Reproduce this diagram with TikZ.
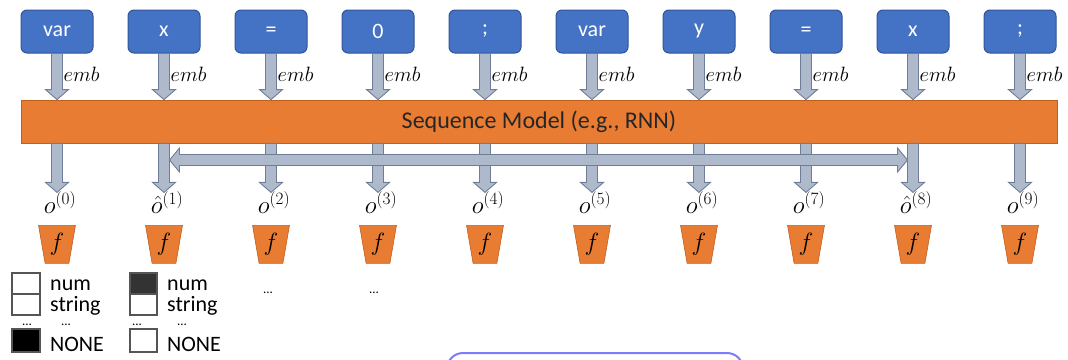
\documentclass[tikz,border=0pt]{standalone}
\usepackage{fontspec}
\setmainfont{Carlito}
\usetikzlibrary{shapes.geometric,calc}
\definecolor{tokF}{HTML}{4472C4}
\definecolor{tokD}{HTML}{2F5597}
\definecolor{orF}{HTML}{E97C33}
\definecolor{orD}{HTML}{C0601E}
\definecolor{arF}{HTML}{AEBACC}
\definecolor{arD}{HTML}{6E7E98}
\definecolor{lgD}{HTML}{555555}
\definecolor{lav}{HTML}{7C7CFA}
\newcommand\dblk[2]{\path[blk] let \p1=#1, \p2=#2 in (\x1-5.5pt,\y1) -- (\x1+5.5pt,\y1) -- (\x1+5.5pt,\y2+10pt) -- (\x1+11.5pt,\y2+10pt) -- (\x1,\y2) -- (\x1-11.5pt,\y2+10pt) -- (\x1-5.5pt,\y2+10pt) -- cycle;}
\begin{document}
\begin{tikzpicture}[x=1pt,y=-1pt,
  tok/.style={draw=tokD, fill=tokF, line width=1pt, rounded corners=6pt, minimum width=72pt, minimum height=43pt, inner sep=0pt, text=white, font=\fontsize{22}{26}\selectfont},
  barbox/.style={draw=orD, fill=orF, line width=0.8pt, minimum width=1036pt, minimum height=43pt, inner sep=0pt, text={black!85}, font=\fontsize{24}{28}\selectfont},
  blk/.style={draw=arD, fill=arF, line width=0.9pt, line join=miter},
  emblab/.style={anchor=base west, inner sep=0pt, font=\fontsize{21.5}{25}\selectfont},
  olab/.style={anchor=base, inner sep=0pt, font=\fontsize{26}{30}\selectfont},
  fbox/.style={trapezium, shape border rotate=180, trapezium stretches=true, trapezium angle=79.6, minimum width=37pt, minimum height=38pt, inner sep=0pt, draw=orD, fill=orF, line width=0.6pt, font=\fontsize{26}{30}\selectfont},
  lgbox/.style={draw=lgD, line width=1.3pt},
  lgtxt/.style={anchor=base west, inner sep=0pt, font=\fontsize{22}{26}\selectfont},
  dots/.style={inner sep=0pt, font=\fontsize{13}{15}\selectfont}
]
\useasboundingbox (0,0) rectangle (1068,359);
% tokens
\node[tok] (t0) at (57,31.5) {var};
\node[tok] (t1) at (164,31.5) {x};
\node[tok] (t2) at (271,31.5) {=};
\node[tok] (t3) at (378,31.5) {0};
\node[tok] (t4) at (485,31.5) {;};
\node[tok] (t5) at (592,31.5) {var};
\node[tok] (t6) at (699,31.5) {y};
\node[tok] (t7) at (806,31.5) {=};
\node[tok] (t8) at (913,31.5) {x};
\node[tok] (t9) at (1020,31.5) {;};
% bar
\node[barbox] (bar) at (539,121.5) {Sequence Model (e.g., RNN)};
% emb arrows and outputs
\foreach \i in {0,...,9}{
  \dblk{(t\i.south)}{(bar.north)}
  \node[emblab] (e\i) at ($(t\i.south)+(6.5,27.5)$) {$emb$};
  \coordinate (a\i) at ($(t\i.south |- bar.south)+(0,49)$);
  \dblk{(t\i.south |- bar.south)}{(a\i)}
  \node[fbox] (f\i) at ($(a\i)+(0,52)$) {$f$};
}
% horizontal double arrow
\coordinate (hL) at ($(a1 |- 0,160)+(5.5,0)$);
\coordinate (hR) at ($(a8 |- 0,160)+(-5.5,0)$);
\path[blk] let \p1=(hL), \p2=(hR) in (\x1,\y1) -- (\x1+10pt,\y1+12pt) -- (\x1+10pt,\y1+5.5pt) -- (\x2-10pt,\y1+5.5pt) -- (\x2-10pt,\y1+12pt) -- (\x2,\y1) -- (\x2-10pt,\y1-12pt) -- (\x2-10pt,\y1-5.5pt) -- (\x1+10pt,\y1-5.5pt) -- (\x1+10pt,\y1-12pt) -- cycle;
% output labels
\node[olab] (o0) at ($(a0)+(3,21)$) {$o^{(0)}$};
\node[olab] (o1) at ($(a1)+(3,21)$) {$\hat{o}^{(1)}$};
\node[olab] (o2) at ($(a2)+(3,21)$) {$o^{(2)}$};
\node[olab] (o3) at ($(a3)+(3,21)$) {$o^{(3)}$};
\node[olab] (o4) at ($(a4)+(3,21)$) {$o^{(4)}$};
\node[olab] (o5) at ($(a5)+(3,21)$) {$o^{(5)}$};
\node[olab] (o6) at ($(a6)+(3,21)$) {$o^{(6)}$};
\node[olab] (o7) at ($(a7)+(3,21)$) {$o^{(7)}$};
\node[olab] (o8) at ($(a8)+(3,21)$) {$\hat{o}^{(8)}$};
\node[olab] (o9) at ($(a9)+(3,21)$) {$o^{(9)}$};
% legend column 1
\draw[lgbox] (12,273) rectangle (40,294);
\draw[lgbox] (12,294) rectangle (40,315);
\draw[lgbox, fill=black] (12,329) rectangle (40,352);
\node[lgtxt] (n1) at (50,290) {num};
\node[lgtxt] (s1) at (50,311) {string};
\node[lgtxt] (N1) at (50,351) {NONE};
\node[dots] (d1) at (27,325) {...};
\node[dots] (d2) at (66,325) {...};
% legend column 2
\draw[lgbox, fill={black!80}] (130,273) rectangle (157,294);
\draw[lgbox] (130,294) rectangle (157,315);
\draw[lgbox] (130,329) rectangle (157,352);
\node[lgtxt] (n2) at (167,290) {num};
\node[lgtxt] (s2) at (167,311) {string};
\node[lgtxt] (N2) at (167,351) {NONE};
\node[dots] (d3) at (137,325) {...};
\node[dots] (d4) at (182,325) {...};
% dots under o2, o3
\node[dots] (d5) at (268,293) {...};
\node[dots] (d6) at (374,293) {...};
% partial rounded box at bottom
\begin{scope}
\clip (0,0) rectangle (1068,359);
\draw[lav, line width=2pt, rounded corners=16pt] (447,353) rectangle (743,400);
\end{scope}
\end{tikzpicture}
\end{document}
